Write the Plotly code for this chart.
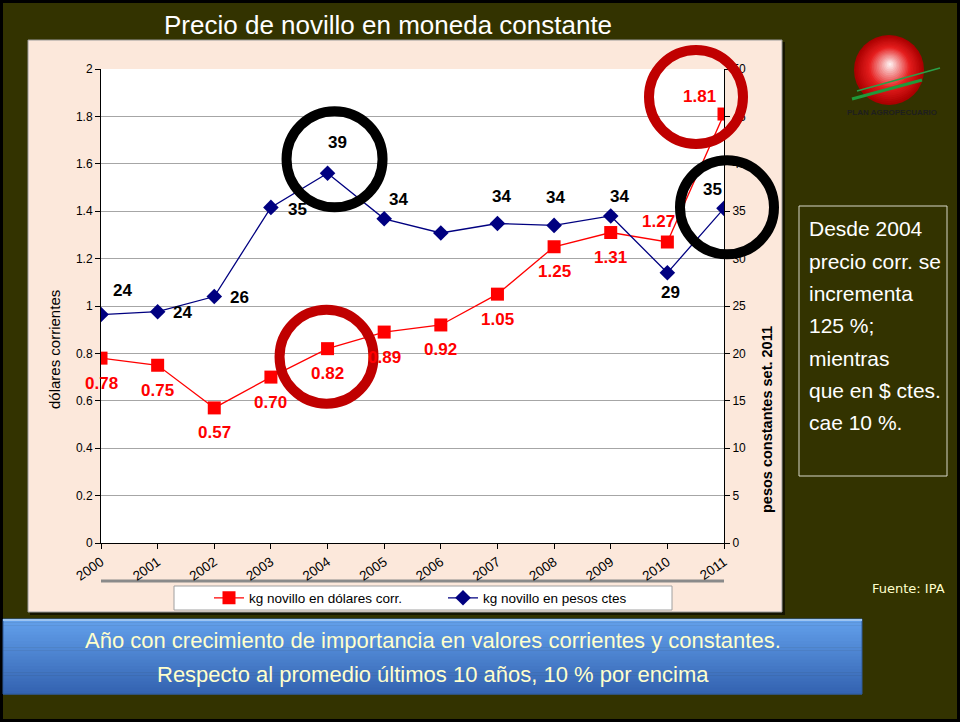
import plotly.graph_objects as go

# ---------------- data ----------------
years = ["2000", "2001", "2002", "2003", "2004", "2005", "2006", "2007", "2008", "2009", "2010", "2011"]
usd_corr = [0.78, 0.75, 0.57, 0.70, 0.82, 0.89, 0.92, 1.05, 1.25, 1.31, 1.27, 1.81]
pesos_ctes = [24.1, 24.4, 26.0, 35.4, 39.0, 34.2, 32.7, 33.7, 33.5, 34.5, 28.5, 35.3]
usd_labels = ["0.78", "0.75", "0.57", "0.70", "0.82", "0.89", "0.92", "1.05", "1.25", "1.31", "1.27", "1.81"]
pesos_labels = ["24", "24", "26", "35", "39", "34", "", "34", "34", "34", "29", "35"]
left_ticks = [0, 0.2, 0.4, 0.6, 0.8, 1, 1.2, 1.4, 1.6, 1.8, 2]
left_ticktext = ["0", "0.2", "0.4", "0.6", "0.8", "1", "1.2", "1.4", "1.6", "1.8", "2"]
right_ticks = [0, 5, 10, 15, 20, 25, 30, 35, 40, 45, 50]

title_text = "Precio de novillo en moneda constante"
left_title = "dólares corrientes"
right_title = "pesos constantes set. 2011"
side_text = ["Desde 2004", "precio corr. se", "incrementa", "125 %;", "mientras", "que en $ ctes.", "cae 10 %."]
bottom_text = ["Año con crecimiento de importancia en valores corrientes y constantes.",
               "Respecto al promedio últimos 10 años, 10 % por encima"]

# ---------------- layout geometry (pixels) ----------------
W, H = 960, 722
PL, PR, PT, PB = 101, 724, 69, 543
YMAX_L, YMAX_R = 2.0, 50.0


def fx(x):
    return x / W


def fy(y):
    return 1 - y / H


def data_px(i, v, vmax):
    return PL + i / (len(years) - 1) * (PR - PL), PB - v / vmax * (PB - PT)


OLIVE = "#333300"
PEACH = "#FCE8DB"
RED = "#FF0000"
NAVY = "#000080"
FONT = "Liberation Sans, Arial, sans-serif"

fig = go.Figure()

fig.add_trace(go.Scatter(
    x=years, y=usd_corr, mode="lines+markers", name="kg novillo en dólares corr.",
    line=dict(color=RED, width=1.3), marker=dict(symbol="square", size=13, color=RED),
    yaxis="y"))
fig.add_trace(go.Scatter(
    x=years, y=pesos_ctes, mode="lines+markers", name="kg novillo en pesos ctes",
    line=dict(color=NAVY, width=1.3), marker=dict(symbol="diamond", size=12, color=NAVY),
    yaxis="y2"))

shapes = []
# outer black frame
shapes.append(dict(type="rect", xref="paper", yref="paper", x0=0, x1=1, y0=0, y1=1,
                   line=dict(color="black", width=6), fillcolor="rgba(0,0,0,0)", layer="below"))
# peach panel with shadow
shapes.append(dict(type="rect", xref="paper", yref="paper", x0=fx(30), x1=fx(785), y0=fy(615), y1=fy(42),
                   line=dict(width=0), fillcolor="#151500", layer="below"))
shapes.append(dict(type="rect", xref="paper", yref="paper", x0=fx(28), x1=fx(782), y0=fy(612), y1=fy(40),
                   line=dict(color="#9a9a9a", width=1), fillcolor=PEACH, layer="below"))
# white plot area
shapes.append(dict(type="rect", xref="paper", yref="paper", x0=fx(PL), x1=fx(PR), y0=fy(PB), y1=fy(PT),
                   line=dict(width=0), fillcolor="white", layer="below"))
# gray line under x labels
shapes.append(dict(type="line", xref="paper", yref="paper", x0=fx(PL), x1=fx(PR), y0=fy(581), y1=fy(581),
                   line=dict(color="#8a8a8a", width=3), layer="below"))
# legend box
shapes.append(dict(type="rect", xref="paper", yref="paper", x0=fx(174), x1=fx(672), y0=fy(610), y1=fy(586),
                   line=dict(color="#a0a0a0", width=1), fillcolor="white", layer="below"))
# blue gradient bottom box
nb = 24
top_c, bot_c = (98, 160, 235), (52, 100, 178)
bx0, bx1, by0, by1 = 3, 862, 619, 694
for k in range(nb):
    t = k / (nb - 1)
    c = tuple(int(top_c[j] + (bot_c[j] - top_c[j]) * t) for j in range(3))
    y0 = by0 + (by1 - by0) * k / nb
    y1 = by0 + (by1 - by0) * (k + 1) / nb
    shapes.append(dict(type="rect", xref="paper", yref="paper", x0=fx(bx0), x1=fx(bx1), y0=fy(y1 + 0.5), y1=fy(y0),
                       line=dict(width=0), fillcolor="rgb(%d,%d,%d)" % c, layer="below"))
shapes.append(dict(type="rect", xref="paper", yref="paper", x0=fx(bx0), x1=fx(bx1), y0=fy(by1), y1=fy(by0),
                   line=dict(color="#2f5a9a", width=1), fillcolor="rgba(0,0,0,0)", layer="below"))
shapes.append(dict(type="line", xref="paper", yref="paper", x0=fx(bx0), x1=fx(bx1), y0=fy(by0 + 1), y1=fy(by0 + 1),
                   line=dict(color="#9cc4f2", width=2), layer="below"))
# right text box
shapes.append(dict(type="rect", xref="paper", yref="paper", x0=fx(799), x1=fx(947), y0=fy(476), y1=fy(206),
                   line=dict(color="#d8d8c8", width=1), fillcolor="rgba(0,0,0,0)", layer="below"))

# logo sphere (radial gradient approximated with concentric circles)
cx, cy, R = 889, 70, 35
hx, hy = 890, 64
n = 22
for k in range(n):
    t = k / n
    r = R * (1 - t)
    ccx = cx + (hx - cx) * t
    ccy = cy + (hy - cy) * t
    if t < 0.4:
        u = t / 0.4
        col = (int(170 + 60 * u), int(0 + 30 * u), int(0 + 30 * u))
    else:
        u = (t - 0.4) / 0.6
        col = (int(230 + 25 * u), int(30 + 225 * u), int(30 + 225 * u))
    shapes.append(dict(type="circle", xref="paper", yref="paper",
                       x0=fx(ccx - r), x1=fx(ccx + r), y0=fy(ccy + r), y1=fy(ccy - r),
                       line=dict(width=0), fillcolor="rgb(%d,%d,%d)" % col, layer="below"))
shapes.append(dict(type="line", xref="paper", yref="paper", x0=fx(852), y0=fy(99), x1=fx(922), y1=fy(80),
                   line=dict(color="#1f9a3a", width=3), layer="below"))
shapes.append(dict(type="line", xref="paper", yref="paper", x0=fx(857), y0=fy(91), x1=fx(940), y1=fy(68),
                   line=dict(color="#2aa048", width=1.5), layer="below"))

# highlight rings around key points
rings = [  # (series, index, dx, dy, radius, color)
    ("usd", 4, -1, 8, 47, "#C00000"),
    ("pes", 4, 7, -14, 48, "black"),
    ("usd", 11, -28, -17, 47, "#C00000"),
    ("pes", 11, 3, -1, 47, "black"),
]
for ser, i, dx, dy, r, col in rings:
    if ser == "usd":
        px, py = data_px(i, usd_corr[i], YMAX_L)
    else:
        px, py = data_px(i, pesos_ctes[i], YMAX_R)
    ccx, ccy = px + dx, py + dy
    shapes.append(dict(type="circle", xref="paper", yref="paper",
                       x0=fx(ccx - r), x1=fx(ccx + r), y0=fy(ccy + r), y1=fy(ccy - r),
                       line=dict(color=col, width=10), fillcolor="rgba(0,0,0,0)", layer="above"))

annotations = []
# data labels (x given as category index)
usd_shift = [(0, -25)] * 10 + [(-9, 21), (-25, 18)]
pes_shift = [(21, 24), (25, -1), (25, -1), (27, -2), (10, 31), (14, 19), (0, 0),
             (4, 27), (1, 28), (9, 19), (3, -20), (-12, 19)]
for i, (v, lab) in enumerate(zip(usd_corr, usd_labels)):
    annotations.append(dict(x=i, y=v, xref="x", yref="y", text="<b>%s</b>" % lab, showarrow=False,
                            xshift=usd_shift[i][0], yshift=usd_shift[i][1],
                            font=dict(family=FONT, size=17, color=RED)))
for i, (v, lab) in enumerate(zip(pesos_ctes, pesos_labels)):
    if lab:
        annotations.append(dict(x=i, y=v, xref="x", yref="y2", text="<b>%s</b>" % lab, showarrow=False,
                                xshift=pes_shift[i][0], yshift=pes_shift[i][1],
                                font=dict(family=FONT, size=17, color="black")))
# axis titles
annotations.append(dict(x=fx(54), y=fy(350), xref="paper", yref="paper", text=left_title, showarrow=False,
                        textangle=-90, xanchor="center", yanchor="middle",
                        font=dict(family=FONT, size=15, color="black")))
annotations.append(dict(x=fx(767), y=fy(420), xref="paper", yref="paper", text="<b>%s</b>" % right_title,
                        showarrow=False, textangle=-90, xanchor="center", yanchor="middle",
                        font=dict(family=FONT, size=14.5, color="black")))
# title
annotations.append(dict(x=fx(388), y=fy(25), xref="paper", yref="paper", text=title_text, showarrow=False,
                        xanchor="center", yanchor="middle", font=dict(family=FONT, size=26, color="white")))
# side text
for k, line in enumerate(side_text):
    annotations.append(dict(x=fx(807), y=fy(229 + k * 32.3), xref="paper", yref="paper", text=line,
                            showarrow=False, xanchor="left", yanchor="middle",
                            font=dict(family=FONT, size=21, color="white")))
# bottom text
for k, line in enumerate(bottom_text):
    annotations.append(dict(x=fx(433), y=fy(640 + k * 34), xref="paper", yref="paper", text=line,
                            showarrow=False, xanchor="center", yanchor="middle",
                            font=dict(family=FONT, size=22, color="#FFFFCC")))
# source
annotations.append(dict(x=fx(947), y=fy(588), xref="paper", yref="paper", text="Fuente: IPA", showarrow=False,
                        xanchor="right", yanchor="middle",
                        font=dict(family="DejaVu Sans, sans-serif", size=13, color="#FFFFCC")))
# logo text
annotations.append(dict(x=fx(892), y=fy(113), xref="paper", yref="paper", text="<b>PLAN AGROPECUARIO</b>",
                        showarrow=False, xanchor="center", yanchor="middle",
                        font=dict(family=FONT, size=8, color="#1e1e1e")))

fig.update_layout(
    width=W, height=H,
    margin=dict(l=0, r=0, t=0, b=0, pad=0, autoexpand=False),
    paper_bgcolor=OLIVE,
    plot_bgcolor="rgba(0,0,0,0)",
    font=dict(family=FONT, size=12, color="black"),
    shapes=shapes,
    annotations=annotations,
    xaxis=dict(
        domain=[fx(PL), fx(PR)], type="category", range=[0, len(years) - 1], automargin=False,
        showgrid=False, showline=True, linecolor="black", linewidth=1,
        ticks="outside", ticklen=5, tickcolor="black", tickangle=-35,
        tickfont=dict(family=FONT, size=13.5, color="black"), zeroline=False,
        anchor="y",
    ),
    yaxis=dict(
        domain=[fy(PB), fy(PT)], range=[0, YMAX_L], tickvals=left_ticks, ticktext=left_ticktext,
        automargin=False,
        showgrid=True, gridcolor="#a6a6a6", gridwidth=1,
        showline=True, linecolor="black", linewidth=1, zeroline=False,
        ticks="outside", ticklen=5, tickcolor="black",
        tickfont=dict(family=FONT, size=12, color="black"),
        anchor="x",
    ),
    yaxis2=dict(
        domain=[fy(PB), fy(PT)], range=[0, YMAX_R], tickvals=right_ticks, overlaying="y", side="right",
        automargin=False,
        showgrid=False, showline=True, linecolor="black", linewidth=1, zeroline=False,
        ticks="outside", ticklen=5, tickcolor="black",
        tickfont=dict(family=FONT, size=12, color="black"),
        anchor="x",
    ),
    legend=dict(
        orientation="h", x=fx(209), y=fy(598), xanchor="left", yanchor="middle",
        bgcolor="rgba(0,0,0,0)", borderwidth=0, font=dict(family=FONT, size=13.5, color="black"),
        entrywidth=189, itemwidth=30,
    ),
    showlegend=True,
)

fig.write_html("out.html", config={"displayModeBar": False},
               post_script="document.body.style.margin='0';document.body.style.overflow='hidden';")
